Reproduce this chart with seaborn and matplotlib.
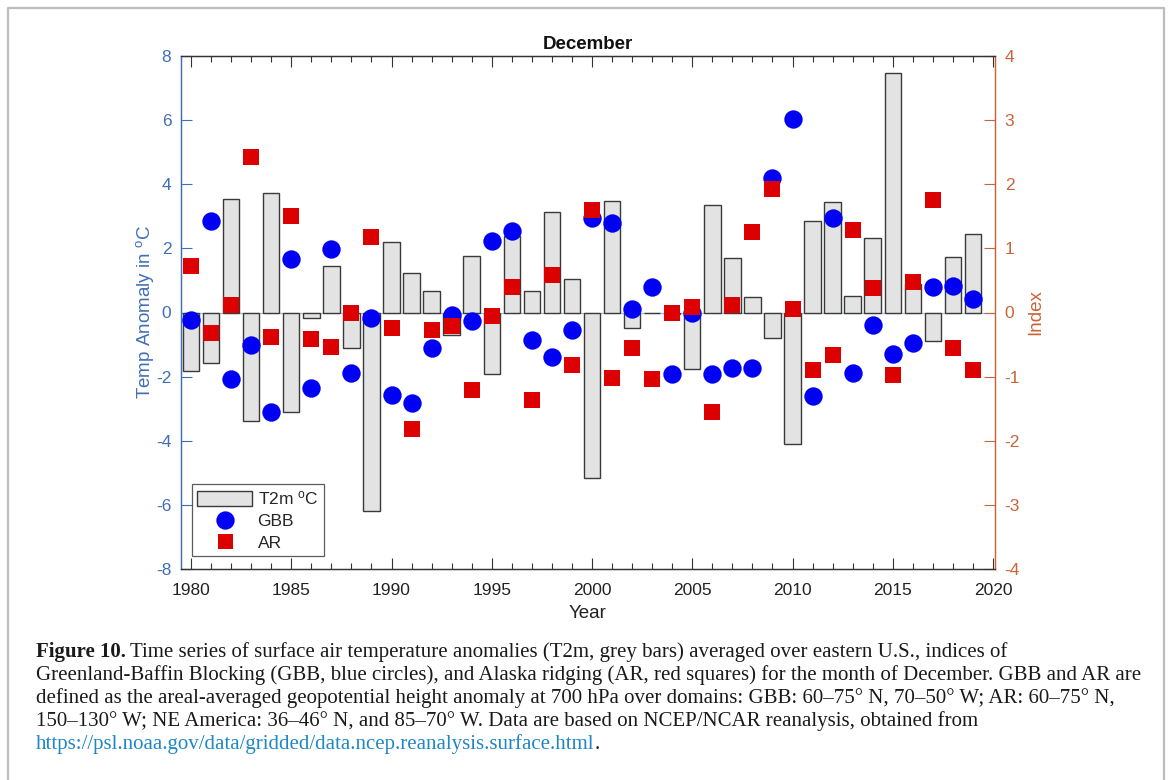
import matplotlib
matplotlib.use('Agg')
import numpy as np
import pandas as pd
import seaborn as sns
import matplotlib.pyplot as plt
from matplotlib.patches import Patch
from matplotlib.lines import Line2D
from matplotlib.ticker import MultipleLocator, FixedLocator

years = list(range(1980, 2020))
t2m = [-1.84, -1.56, 3.55, -3.38, 3.74, -3.10, -0.18, 1.45, -1.10, -6.19,
       2.20, 1.23, 0.67, -0.70, 1.75, -1.92, 2.40, 0.67, 3.12, 1.04,
       -5.17, 3.47, -0.47, -0.03, -0.05, -1.77, 3.34, 1.69, 0.47, -0.79,
       -4.11, 2.84, 3.44, 0.52, 2.32, 7.48, 0.90, -0.90, 1.74, 2.46]
gbb = [-0.12, 1.43, -1.04, -0.50, -1.55, 0.83, -1.17, 0.99, -0.95, -0.08,
       -1.28, -1.41, -0.56, -0.04, -0.14, 1.11, 1.27, -0.43, -0.69, -0.28,
       1.47, 1.39, 0.05, 0.39, -0.96, -0.01, -0.96, -0.87, -0.86, 2.09,
       3.01, -1.30, 1.47, -0.94, -0.20, -0.65, -0.48, 0.39, 0.41, 0.21]
ar = [0.73, -0.32, 0.11, 2.42, -0.38, 1.51, -0.41, -0.54, -0.01, 1.17,
      -0.24, -1.81, -0.27, -0.21, -1.21, -0.05, 0.40, -1.37, 0.59, -0.82,
      1.60, -1.02, -0.55, -1.04, 0.00, 0.08, -1.55, 0.11, 1.26, 1.92,
      0.06, -0.90, -0.67, 1.28, 0.38, -0.97, 0.48, 1.76, -0.56, -0.89]

left_ticks = [-8, -6, -4, -2, 0, 2, 4, 6, 8]
right_ticks = [-4, -3, -2, -1, 0, 1, 2, 3, 4]
x_ticks = [1980, 1985, 1990, 1995, 2000, 2005, 2010, 2015, 2020]

caption_lines = [
    "Time series of surface air temperature anomalies (T2m, grey bars) averaged over eastern U.S., indices of",
    "Greenland-Baffin Blocking (GBB, blue circles), and Alaska ridging (AR, red squares) for the month of December. GBB and AR are",
    "defined as the areal-averaged geopotential height anomaly at 700 hPa over domains: GBB: 60\u201375\u00b0 N, 70\u201350\u00b0 W; AR: 60\u201375\u00b0 N,",
    "150\u2013130\u00b0 W; NE America: 36\u201346\u00b0 N, and 85\u201370\u00b0 W. Data are based on NCEP/NCAR reanalysis, obtained from",
]
caption_link = "https://psl.noaa.gov/data/gridded/data.ncep.reanalysis.surface.html"

df = pd.DataFrame({'Year': years, 'T2m': t2m, 'GBB': gbb, 'AR': ar})

sns.set_style('white')
plt.rcParams['font.family'] = ['Liberation Sans', 'DejaVu Sans']
plt.rcParams['mathtext.fontset'] = 'custom'
plt.rcParams['mathtext.rm'] = 'Liberation Sans'
plt.rcParams['mathtext.it'] = 'Liberation Sans:italic'

BLUE_AX = '#3F6FB6'
ORANGE_AX = '#C8643A'
W, H = 1171, 780

fig = plt.figure(figsize=(W / 100, H / 100), dpi=100)
fig.patch.set_facecolor('white')
ax = fig.add_axes([181 / W, 1 - 569 / H, 814 / W, 513 / H])

ax.axhline(0, color='#9DBDE3', lw=0.9, zorder=0.5)
sns.barplot(data=df, x='Year', y='T2m', native_scale=True, width=0.82,
            color='#E3E3E3', saturation=1, edgecolor='#3A3A3A', linewidth=1.0,
            errorbar=None, ax=ax, zorder=2)

ax2 = ax.twinx()
sns.scatterplot(data=df, x='Year', y='GBB', marker='o', s=175, color='#0000F5',
                linewidth=0, ax=ax2, zorder=3)
sns.scatterplot(data=df, x='Year', y='AR', marker='s', s=118, color='#DD0000',
                linewidth=0, ax=ax2, zorder=4)

ax.set_xlim(1979.5, 2020.1)
ax.set_ylim(-8, 8)
ax2.set_ylim(-4, 4)

ax.xaxis.set_major_locator(FixedLocator(x_ticks))
ax.xaxis.set_minor_locator(MultipleLocator(1))
ax.set_xticklabels([str(t) for t in x_ticks])
ax.yaxis.set_major_locator(FixedLocator(left_ticks))
ax.set_yticklabels([str(t) for t in left_ticks])
ax2.yaxis.set_major_locator(FixedLocator(right_ticks))
ax2.set_yticklabels([str(t) for t in right_ticks])

ax.tick_params(axis='x', which='major', direction='in', length=8, width=0.8,
               top=True, bottom=True, color='#333333', labelsize=12.5, pad=10,
               labelcolor='#222222')
ax.tick_params(axis='x', which='minor', direction='in', length=4, width=0.8,
               top=True, bottom=True, color='#333333')
ax.tick_params(axis='y', which='major', direction='in', length=8, width=0.8,
               left=True, right=False, color=BLUE_AX, labelcolor=BLUE_AX,
               labelsize=12.5, pad=7)
ax2.tick_params(axis='y', which='major', direction='in', length=8, width=0.8,
                right=True, left=False, color=ORANGE_AX, labelcolor=ORANGE_AX,
                labelsize=12.5, pad=7)

for a in (ax, ax2):
    for s in a.spines.values():
        s.set_linewidth(0.9)
    a.spines['top'].set_color('#333333')
    a.spines['bottom'].set_color('#333333')
    a.spines['left'].set_color(BLUE_AX)
    a.spines['right'].set_color(ORANGE_AX)

ax.set_xlabel('Year', fontsize=13.5, color='#222222', labelpad=5)
ax.set_ylabel('Temp Anomaly in $^{\\rm o}$C', fontsize=13.5, color=BLUE_AX, labelpad=0)
ax2.set_ylabel('Index', fontsize=13.5, color=ORANGE_AX, labelpad=5)
ax.set_title('December', fontsize=13.5, fontweight='bold', color='#111111', pad=5)

handles = [
    Patch(facecolor='#E3E3E3', edgecolor='#3A3A3A', linewidth=1.0),
    Line2D([], [], marker='o', linestyle='none', markersize=13.2,
           markerfacecolor='#0000F5', markeredgewidth=0),
    Line2D([], [], marker='s', linestyle='none', markersize=10.8,
           markerfacecolor='#DD0000', markeredgewidth=0),
]
labels = ['T2m $^{\\rm o}$C', 'GBB', 'AR']
leg = ax2.legend(handles, labels, loc='lower left', bbox_to_anchor=(0.013, 0.025),
                 frameon=True, fancybox=False, edgecolor='#333333', fontsize=12.5,
                 handlelength=3.2, handleheight=0.95, borderpad=0.3,
                 labelspacing=0.3, handletextpad=0.3, borderaxespad=0)
leg.get_frame().set_linewidth(0.9)

# outer frame of the figure panel
frame_x = [8 / W, 8 / W, 1164 / W, 1164 / W]
frame_y = [0.0, 1 - 8 / H, 1 - 8 / H, 0.0]
fig.add_artist(Line2D(frame_x, frame_y, color='#BDBDBD', lw=1.6,
                      transform=fig.transFigure))

# caption
serif = ['Liberation Serif', 'DejaVu Serif']
cap_size = 15.0
x0 = 36 / W
baselines = [657, 680, 703, 726, 749]
fig.canvas.draw()
renderer = fig.canvas.get_renderer()
t_bold = fig.text(x0, 1 - baselines[0] / H, 'Figure 10.', family=serif,
                  fontweight='bold', fontsize=cap_size, va='baseline', color='#1a1a1a')
bb = t_bold.get_window_extent(renderer=renderer)
fig.text(bb.x1 / W + 4 / W, 1 - baselines[0] / H, caption_lines[0], family=serif,
         fontsize=cap_size, va='baseline', color='#1a1a1a')
for i in range(1, 4):
    fig.text(x0, 1 - baselines[i] / H, caption_lines[i], family=serif,
             fontsize=cap_size, va='baseline', color='#1a1a1a')
t_link = fig.text(x0, 1 - baselines[4] / H, caption_link, family=serif,
                  fontsize=cap_size, va='baseline', color='#1E88C7')
bb = t_link.get_window_extent(renderer=renderer)
fig.text(bb.x1 / W, 1 - baselines[4] / H, '.', family=serif,
         fontsize=cap_size, va='baseline', color='#1a1a1a')

fig.savefig('out.png', dpi=100)
